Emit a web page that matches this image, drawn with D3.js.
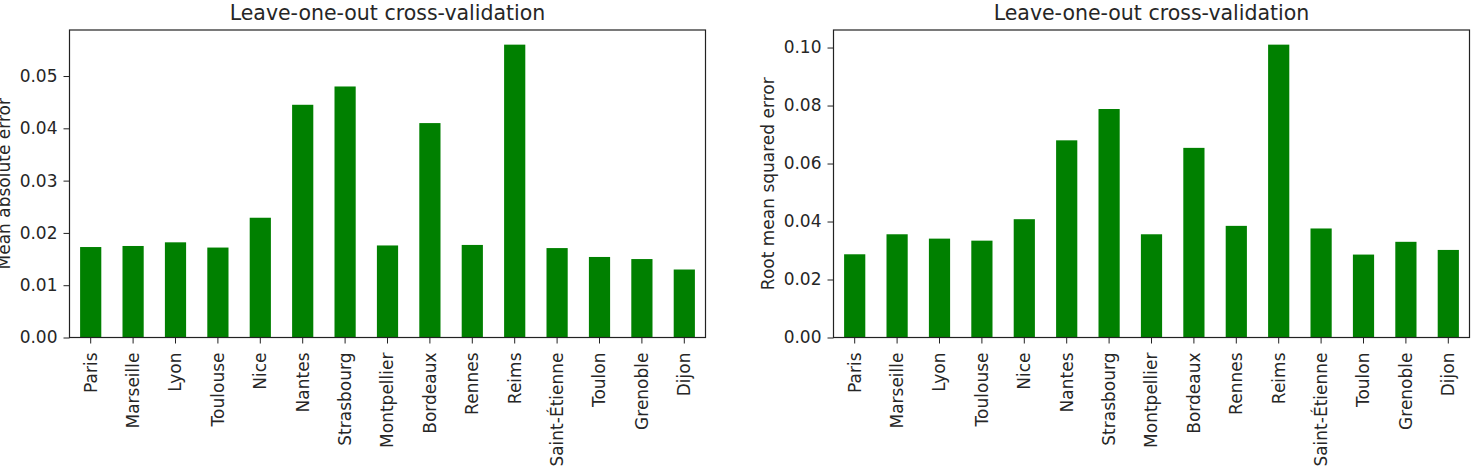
<!DOCTYPE html>
<html>
<head>
<meta charset="utf-8">
<script src="https://cdn.jsdelivr.net/npm/d3@7"></script>
<style>
  body { margin: 0; background: #fff; }
  svg text { font-family: "DejaVu Sans", sans-serif; fill: #262626; }
</style>
</head>
<body>
<svg id="chart" width="1473" height="468"></svg>
<script>
// cities on the x axis (same for both panels)
const cities = ["Paris", "Marseille", "Lyon", "Toulouse", "Nice", "Nantes", "Strasbourg",
  "Montpellier", "Bordeaux", "Rennes", "Reims", "Saint-Étienne", "Toulon", "Grenoble", "Dijon"];

// left panel: mean absolute error
const maeValues = [0.0173, 0.0175, 0.0182, 0.0172, 0.0229, 0.0445, 0.0480,
  0.0176, 0.0410, 0.0177, 0.0560, 0.0171, 0.0154, 0.0150, 0.0130];
const maeTicks = [0.00, 0.01, 0.02, 0.03, 0.04, 0.05];

// right panel: root mean squared error
const rmseValues = [0.0287, 0.0356, 0.0341, 0.0334, 0.0408, 0.0680, 0.0788,
  0.0356, 0.0654, 0.0385, 0.1010, 0.0376, 0.0286, 0.0330, 0.0302];
const rmseTicks = [0.00, 0.02, 0.04, 0.06, 0.08, 0.10];

const svg = d3.select("#chart");

function drawPanel(left, values, ticks, yLabel)
{
  const top = 30, bottom = 337.5, width = 636;
  const g = svg.append("g");

  const x = d3.scaleBand()
    .domain(cities)
    .range([left, left + width])
    .paddingInner(0.5)
    .paddingOuter(0.25);

  // matplotlib-style 5% headroom
  const y = d3.scaleLinear()
    .domain([0, d3.max(values) * 1.05])
    .range([bottom, top]);

  // bars
  g.selectAll(".bar")
    .data(values)
    .enter()
    .append("rect")
    .attr("class", "bar")
    .attr("x", (d, i) => x(cities[i]))
    .attr("y", d => y(d))
    .attr("width", x.bandwidth())
    .attr("height", d => bottom - y(d))
    .attr("fill", "#008000");

  // y axis
  const yAxis = d3.axisLeft(y)
    .tickValues(ticks)
    .tickFormat(d3.format(".2f"))
    .tickSize(6)
    .tickPadding(6);

  const ya = g.append("g")
    .attr("transform", `translate(${ left }, 0)`)
    .call(yAxis);
  ya.select(".domain").remove();
  ya.selectAll("line").attr("stroke", "#222");
  ya.selectAll("text").style("font-size", "17px").attr("fill", "#262626");

  // x axis
  const xAxis = d3.axisBottom(x)
    .tickSize(6)
    .tickPadding(8);

  const xa = g.append("g")
    .attr("transform", `translate(0, ${ bottom })`)
    .call(xAxis);
  xa.select(".domain").remove();
  xa.selectAll("line").attr("stroke", "#222");
  xa.selectAll("text")
    .style("font-size", "17px")
    .attr("fill", "#262626")
    .attr("text-anchor", "end")
    .attr("dy", "0.35em")
    .attr("y", 0)
    .attr("transform", "rotate(-90) translate(-15, 0)");

  // frame
  g.append("rect")
    .attr("x", left)
    .attr("y", top)
    .attr("width", width)
    .attr("height", bottom - top)
    .attr("fill", "none")
    .attr("stroke", "#222")
    .attr("stroke-width", 1.2);

  // title
  g.append("text")
    .attr("x", left + width / 2)
    .attr("y", 20)
    .attr("text-anchor", "middle")
    .style("font-size", "20.5px")
    .text("Leave-one-out cross-validation");

  // y label
  g.append("text")
    .attr("transform", `translate(${ left - 60 }, ${ (top + bottom) / 2 }) rotate(-90)`)
    .attr("text-anchor", "middle")
    .style("font-size", "17px")
    .text(yLabel);
}

drawPanel(69.5, maeValues, maeTicks, "Mean absolute error");
drawPanel(833.5, rmseValues, rmseTicks, "Root mean squared error");
</script>
</body>
</html>
